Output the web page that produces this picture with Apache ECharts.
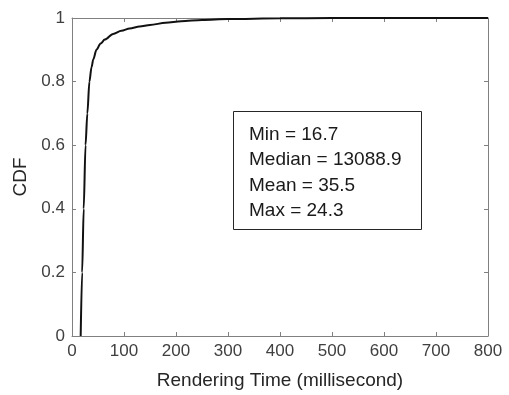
<!DOCTYPE html>
<html>
<head>
<meta charset="utf-8">
<script src="https://cdn.jsdelivr.net/npm/echarts@6/dist/echarts.min.js"></script>
<style>
    html, body { margin: 0; padding: 0; background: #fff; }
    #chart { width: 509px; height: 395px; }
</style>
</head>
<body>
<div id="chart"></div>
<script>
// rendering time (ms) and cumulative probability
const renderTimes = [16.7, 19.5, 22.5, 26, 29.5, 33.5, 37.5, 41, 47, 55, 63, 79, 95, 111, 130, 150, 180, 210, 250, 300, 400, 500, 600, 700, 800];
const cdfValues = [0, 0.2, 0.4, 0.6, 0.7, 0.8, 0.845, 0.87, 0.9, 0.92, 0.932, 0.95, 0.96, 0.967, 0.973, 0.978, 0.985, 0.99, 0.994, 0.997, 0.999, 1, 1, 1, 1];

const statLines = ['Min = 16.7', 'Median = 13088.9', 'Mean = 35.5', 'Max = 24.3'];

const axisColor = '#808080';
const labelColor = '#404040';
const font = 'Liberation Sans, Arial, Helvetica, sans-serif';

const chart = echarts.init(document.getElementById('chart'));

const tickStyle = { show: true, inside: true, length: 4, lineStyle: { color: axisColor } };

chart.setOption({
    animation: false,
    grid: { left: 72, right: 21, top: 18, bottom: 57 },
    xAxis: [{
        type: 'value',
        min: 0, max: 800, interval: 100,
        name: 'Rendering Time (millisecond)',
        nameLocation: 'middle',
        nameGap: 35,
        nameTextStyle: { fontFamily: font, fontSize: 19, color: '#262626' },
        axisLine: { show: true, lineStyle: { color: axisColor } },
        axisTick: tickStyle,
        axisLabel: { margin: 7, fontFamily: font, fontSize: 17, color: labelColor },
        splitLine: { show: false }
    }, {
        type: 'value',
        position: 'top',
        min: 0, max: 800, interval: 100,
        axisLine: { show: true, onZero: false, lineStyle: { color: axisColor } },
        axisTick: tickStyle,
        axisLabel: { show: false },
        splitLine: { show: false }
    }],
    yAxis: [{
        type: 'value',
        min: 0, max: 1, interval: 0.2,
        name: 'CDF',
        nameLocation: 'middle',
        nameGap: 38,
        nameTextStyle: { fontFamily: font, fontSize: 19, color: '#262626' },
        axisLine: { show: true, lineStyle: { color: axisColor } },
        axisTick: tickStyle,
        axisLabel: { margin: 7, fontFamily: font, fontSize: 17, color: labelColor },
        splitLine: { show: false }
    }, {
        type: 'value',
        position: 'right',
        min: 0, max: 1, interval: 0.2,
        axisLine: { show: true, onZero: false, lineStyle: { color: axisColor } },
        axisTick: tickStyle,
        axisLabel: { show: false },
        splitLine: { show: false }
    }],
    series: [{
        type: 'line',
        data: renderTimes.map((t, i) => [t, cdfValues[i]]),
        showSymbol: false,
        smooth: 0.3,
        smoothMonotone: 'x',
        lineStyle: { color: '#111', width: 2 },
        z: 5
    }],
    graphic: [{
        type: 'rect',
        shape: { x: 233.5, y: 111.5, width: 188, height: 118 },
        style: { fill: '#fff', stroke: '#262626', lineWidth: 1 },
        z: 10
    }, {
        type: 'text',
        left: 249,
        top: 122,
        z: 11,
        style: {
            text: statLines.join('\n'),
            fontFamily: font,
            fontSize: 19,
            lineHeight: 25.5,
            fill: '#1a1a1a'
        }
    }]
});
</script>
</body>
</html>
